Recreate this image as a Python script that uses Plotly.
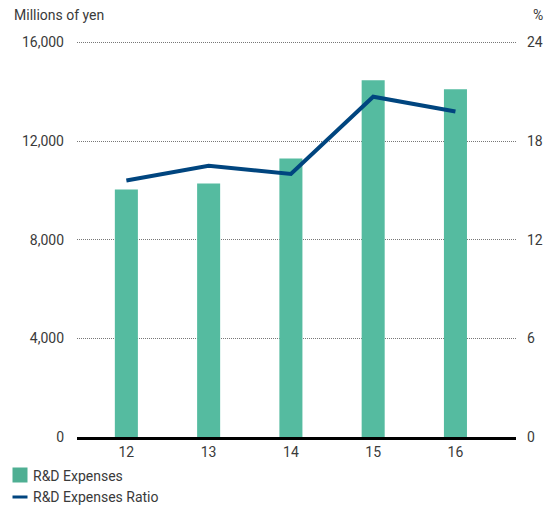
import plotly.graph_objects as go

years = ["12", "13", "14", "15", "16"]
x_pos = [0, 1, 2, 3, 4]
rd_expenses = [10040, 10280, 11300, 14470, 14100]
rd_ratio = [15.6, 16.5, 16.0, 20.7, 19.8]
left_ticks = [0, 4000, 8000, 12000, 16000]
left_labels = ["0", "4,000", "8,000", "12,000", "16,000"]
right_ticks = [0, 6, 12, 18, 24]
series_names = ["R&D Expenses", "R&D Expenses Ratio"]

FONT = "Roboto"
TXT = "#3a3a3a"
BAR = "#55BBA0"
LINE = "#00457F"

W, H = 549, 506
ML, MR, MT, MB = 77, 33, 41, 69
PW, PH = W - ML - MR, H - MT - MB
YMAX_L = 16000 * PH / (PH - 1.5)
YMAX_R = 24 * PH / (PH - 1.5)

fig = go.Figure()
fig.add_trace(go.Bar(
    x=x_pos, y=rd_expenses, name=series_names[0],
    marker=dict(color=BAR, line=dict(width=0)), width=0.28,
    yaxis="y", showlegend=False,
))
fig.add_trace(go.Scatter(
    x=x_pos, y=rd_ratio, name=series_names[1], mode="lines",
    line=dict(color=LINE, width=4), yaxis="y2", showlegend=False,
))


def px_x(px):
    return (px - ML) / PW


def px_y(py):
    return (H - MB - py) / PH


shapes = [
    dict(type="rect", xref="paper", yref="paper",
         x0=px_x(12.5), x1=px_x(27.5), y0=px_y(482.5), y1=px_y(467.5),
         fillcolor="#4FAF93", line=dict(width=0)),
    dict(type="line", xref="paper", yref="paper",
         x0=px_x(12.5), x1=px_x(27.5), y0=px_y(497), y1=px_y(497),
         line=dict(color=LINE, width=3)),
]

annotations = [
    dict(text="Millions of yen", xref="paper", yref="paper",
         x=px_x(12), y=px_y(15), xanchor="left", yanchor="middle",
         showarrow=False, font=dict(size=14, color=TXT)),
    dict(text="%", xref="paper", yref="paper",
         x=px_x(545), y=px_y(15), xanchor="right", yanchor="middle",
         showarrow=False, font=dict(size=14, color=TXT)),
    dict(text=series_names[0], xref="paper", yref="paper",
         x=px_x(31), y=px_y(476), xanchor="left", yanchor="middle",
         showarrow=False, font=dict(size=14, color=TXT)),
    dict(text=series_names[1], xref="paper", yref="paper",
         x=px_x(31), y=px_y(496.5), xanchor="left", yanchor="middle",
         showarrow=False, font=dict(size=14, color=TXT)),
]

fig.update_layout(
    width=W, height=H,
    margin=dict(l=ML, r=MR, t=MT, b=MB, autoexpand=False),
    paper_bgcolor="white", plot_bgcolor="white",
    font=dict(family=FONT, size=14, color=TXT),
    showlegend=False,
    xaxis=dict(
        range=[-0.6, 4.736], tickvals=x_pos, ticktext=years,
        showgrid=False, zeroline=False, showline=True,
        linecolor="black", linewidth=2.5, ticks="", ticklabelstandoff=0,
        tickfont=dict(size=14, color=TXT),
    ),
    yaxis=dict(
        range=[0, YMAX_L], tickvals=left_ticks, ticktext=left_labels,
        showgrid=True, gridcolor="#777777", griddash="1px,1px", gridwidth=1,
        zeroline=False, ticks="", ticklabelstandoff=12,
        tickfont=dict(size=14, color=TXT),
    ),
    yaxis2=dict(
        range=[0, YMAX_R], tickvals=right_ticks, overlaying="y", side="right",
        showgrid=False, zeroline=False, ticks="", ticklabelstandoff=10,
        tickfont=dict(size=14, color=TXT),
    ),
    shapes=shapes,
    annotations=annotations,
)

fig.write_html("out.html")
